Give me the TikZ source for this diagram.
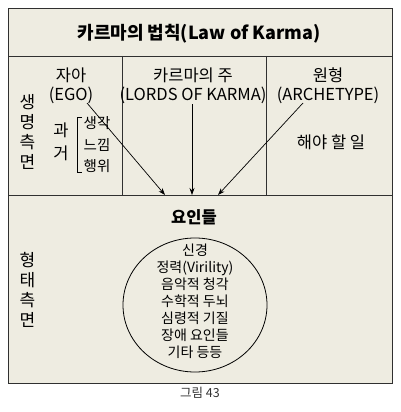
\documentclass[tikz,border=0pt]{standalone}
\usepackage{fontspec}
\setmainfont{Noto Sans CJK KR}
\usetikzlibrary{arrows.meta}
\definecolor{bgc}{HTML}{EEECE1}
\definecolor{lnc}{HTML}{303030}
\tikzset{
  frame/.style={draw=lnc, line width=0.9pt},
  lbl/.style={inner sep=0pt, text=black, font=\fontsize{16.5}{19}\selectfont, align=center},
  small/.style={inner sep=0pt, text=black, font=\fontsize{14.5}{16}\selectfont},
  arr/.style={draw=black, line width=0.7pt, -{Stealth[length=7pt,width=5pt]}},
}
\begin{document}
\begin{tikzpicture}[x=1pt,y=-1pt]
\useasboundingbox (0,0) rectangle (400,412);
\fill[white] (0,0) rectangle (400,412);
% boxes
\fill[bgc] (8,8) rectangle (392,383);
\draw[frame] (8,8) rectangle (392,383);
\draw[frame] (8,56) -- (392,56);
\draw[frame] (8,195) -- (392,195);
\draw[frame] (122,56) -- (122,195);
\draw[frame] (266,56) -- (266,195);
% title
\node[inner sep=0pt, font=\fontsize{18}{21}\selectfont\bfseries] (title) at (199,34) {카르마의 법칙(Law of Karma)};
% column heads
\node[lbl] (ego) at (71,85.5) {자아\\(EGO)};
\node[lbl] (lords) at (193,85.5) {카르마의 주\\(LORDS OF KARMA)};
\node[lbl] (arch) at (328,85.5) {원형\\(ARCHETYPE)};
% vertical labels
\node[lbl, font=\fontsize{17}{20}\selectfont] (life) at (27.5,132) {생\\명\\측\\면};
\node[lbl, font=\fontsize{16.5}{23}\selectfont] (past) at (61,141.5) {과\\거};
\draw[draw=black, line width=0.6pt] (82,117) -- (77,117) -- (77,172) -- (82,172);
\node[small] (think) at (97,123) {생각};
\node[small] (feel) at (97,145) {느낌};
\node[small] (act) at (97,166) {행위};
\node[lbl] (todo) at (331,142) {해야 할 일};
% arrow targets
\coordinate (t1) at (165,195);
\coordinate (t2) at (192,195);
\coordinate (t3) at (218,195);
\draw[arr] (87,103) -- (t1);
\draw[arr] (192,104) -- (t2);
\draw[arr] (303,103) -- (t3);
% bottom section
\node[inner sep=0pt, font=\fontsize{16.5}{19}\selectfont\bfseries] (factors) at (194,217) {요인들};
\node[lbl, font=\fontsize{17}{20}\selectfont] (form) at (27.5,290) {형\\태\\측\\면};
\draw[draw=black, line width=0.8pt] (195,305) ellipse [x radius=72, y radius=67];
\node[inner sep=0pt, align=center, font=\fontsize{14}{17}\selectfont] (items) at (195,301) {신경\\정력(Virility)\\음악적 청각\\수학적 두뇌\\심령적 기질\\장애 요인들\\기타 등등};
% caption
\node[inner sep=0pt, font=\fontsize{12.5}{14}\selectfont, text=black!80] (cap) at (200,393) {그림 43};
\end{tikzpicture}
\end{document}
